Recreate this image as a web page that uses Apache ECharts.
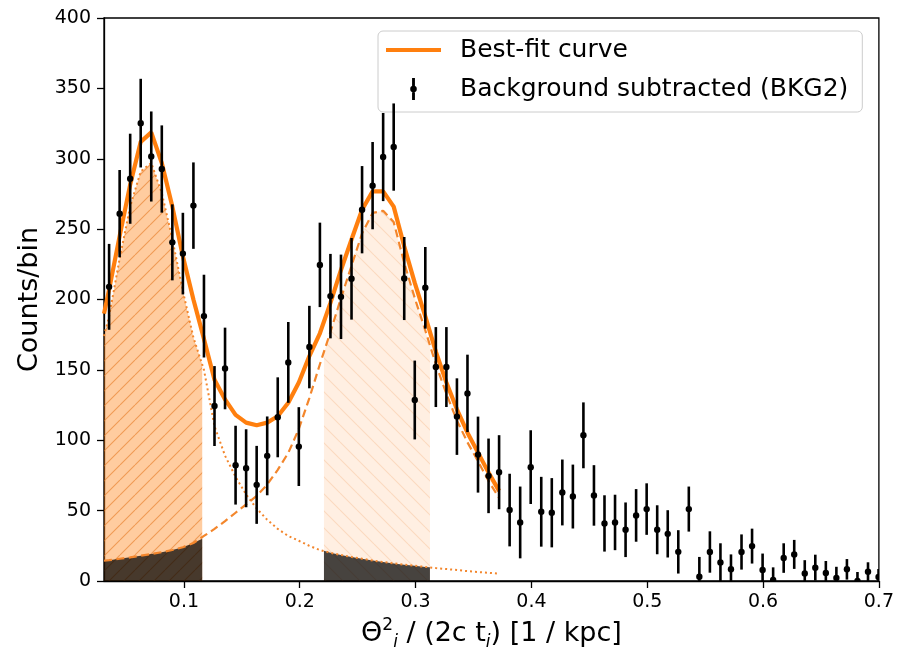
<!DOCTYPE html>
<html><head><meta charset="utf-8">
<script src="https://cdn.jsdelivr.net/npm/echarts@6/dist/echarts.min.js"></script>
<style>html,body{margin:0;padding:0;background:#fff}#c{width:897px;height:656px}</style>
</head><body><div id="c"></div>
<script>
// ---- data ----
const binX = [0.0354,0.0445,0.0536,0.0627,0.0718,0.0809,0.0900,0.0991,0.1082,0.1173,
0.1264,0.1355,0.1446,0.1537,0.1628,0.1719,0.1810,0.1901,0.1992,0.2083,
0.2174,0.2265,0.2356,0.2447,0.2538,0.2629,0.2720,0.2811,0.2902,0.2993,
0.3084,0.3175,0.3266,0.3357,0.3448,0.3539,0.3630,0.3721,0.3812,0.3903,
0.3994,0.4085,0.4176,0.4267,0.4358,0.4449,0.4540,0.4631,0.4722,0.4813,
0.4904,0.4995,0.5086,0.5177,0.5268,0.5359,0.5450,0.5541,0.5632,0.5723,
0.5814,0.5905,0.5996,0.6087,0.6178,0.6269,0.6360,0.6451,0.6542,0.6633,
0.6724,0.6815,0.6906,0.6997];
const counts = [209,261,285.8,325.3,301.6,292.7,240.6,232.6,266.7,188.2,
124.3,151,82.3,80.1,68.3,88.9,116.3,155.3,95.5,166.2,
224.6,202.4,201.9,214.7,263.8,280.9,301.2,308.3,214.9,128.6,
208.3,152,152,116.8,133.3,89.8,74.7,77.3,50.4,41.6,
80.9,49.2,48.5,62.9,60,103.5,60.8,40.9,41.6,36.4,
46.6,51.1,36.4,33.5,20.7,51.1,3.1,20.6,13.2,8.3,
20.6,24.8,7.8,0.7,16.3,18.9,5.4,9.5,5.7,2.1,
8.3,0,6.6,2.8];
const errors = [30.5,31,32,31.5,32,31,27,29,30.7,29.4,
28.4,29,28,27.7,27.7,28,28.4,28.7,28,29.3,
30,30,30,29,31,31,31.3,31,29.5,28,
29,28.4,28.4,27.2,27.5,27,26.5,26.3,25.8,25.5,
26.2,24.8,24.6,23.4,22.7,23.4,21.5,20,19.7,19.4,
18.7,18.3,17.4,16.8,15.4,16,14,14.7,13.6,10.6,
12.5,12.4,11.7,9,10.5,10.3,9.4,9.2,8.5,8,
7.3,6.4,6.7,5.7];

const curveStartX = 0.031;
const bestFit = [190,207,245,281.6,312,318.7,297,266,230.7,200,172,143,129,118,112.5,110.6,112.5,117,126.7,141,159.8,176,197.6,221,242.6,263.8,276.8,276.8,266,237.8,211.8,188,163,141,122,105.4,91.2,77,64];
const comp1 = [174,188,229,266,291,297,275.6,243,206,173,150,110,89,74,61.5,51.5,43.5,37,32,28.6,25,22,20,18.5,17,15.8,14.6,13.5,12.5,11.6,10.8,10,9.2,8.5,7.8,7,6.4,5.8,5.2];
const comp2 = [14.4,14.8,15.8,16.8,18,19.2,20.5,22,24,27,32,37,42.5,48.5,54.5,60.5,68.5,79,91,108,130,154,177,201,224,247,261.5,263,255,226,201,178,154,133,114,98.5,85,71,59];

const xTicks = [0.1,0.2,0.3,0.4,0.5,0.6,0.7];
const region1Bounds = [0.031, 0.1158];
const region1Comp1Edge = [null, 154];
const region1Comp2Edge = [null, 30];
const region2Bounds = [0.2209, 0.3124];
const region2Comp2Edge = [162, 167.5];
const region2Comp1Edge = [21.5, 9.7];

// ---- helpers ----
const curveX = [curveStartX].concat(binX.slice(0, bestFit.length - 1));
const pts = ys => ys.map((v, i) => [curveX[i], v]);
function regionData(ys, bounds, edge) {
  const out = [];
  if (edge[0] != null) out.push([bounds[0], edge[0]]);
  ys.forEach((v, i) => {
    const x = curveX[i];
    if (x >= bounds[0] - 1e-9 && x < bounds[1]) out.push([x, v]);
  });
  out.push([bounds[1], edge[1]]);
  return out;
}
function hatch(bg, line, dir, size) {
  const c = document.createElement('canvas');
  c.width = size; c.height = size;
  const g = c.getContext('2d');
  g.fillStyle = bg; g.fillRect(0, 0, size, size);
  g.strokeStyle = line; g.lineWidth = 1.1;
  g.beginPath();
  for (let k = -1; k <= 1; k++) {
    if (dir === '/') { g.moveTo(k * size, size); g.lineTo(k * size + size, 0); }
    else { g.moveTo(k * size, 0); g.lineTo(k * size + size, size); }
  }
  g.stroke();
  return c;
}
const ORANGE = '#ff7f0e';
const FONT = 'DejaVu Sans';
const ICON_LINE = 'path://M0,0 L55,0 L55,4 L0,4 Z';
const ICON_ERR = 'path://M-1.3,-10 L1.3,-10 L1.3,10 L-1.3,10 Z M0,-3 A3,3 0 1,1 0,3 A3,3 0 1,1 0,-3 Z';

const chart = echarts.init(document.getElementById('c'), null, {renderer: 'canvas'});
const fillBase = {type: 'line', symbol: 'none', showSymbol: false, silent: true, lineStyle: {width: 0}, z: 1};

chart.setOption({
  animation: false,
  backgroundColor: '#fff',
  grid: {left: 104, right: 18, top: 18, bottom: 74, show: true, borderColor: '#000', borderWidth: 1.3, backgroundColor: 'transparent'},
  legend: {
    data: [
      {name: 'Best-fit curve', icon: ICON_LINE, itemStyle: {color: ORANGE, borderWidth: 0}},
      {name: 'Background subtracted (BKG2)', icon: ICON_ERR, itemStyle: {color: '#000', borderWidth: 0}}
    ],
    left: 378, top: 31, orient: 'vertical',
    padding: [4, 14, 8, 8], itemGap: 9, itemWidth: 55, itemHeight: 22,
    backgroundColor: 'rgba(255,255,255,0.8)', borderColor: '#cccccc', borderWidth: 1, borderRadius: 5,
    selectedMode: false,
    textStyle: {fontFamily: FONT, fontSize: 25, color: '#000', lineHeight: 30, padding: [0, 0, 0, 14]}
  },
  xAxis: {
    type: 'value', min: 0.031, max: 0.7,
    name: 'Θ{sup|2}{sub|i} / (2c t{sub|i}) [1 / kpc]',
    nameLocation: 'middle', nameGap: 36,
    nameTextStyle: {fontFamily: FONT, fontSize: 27, color: '#000',
      rich: {
        sup: {fontFamily: FONT, fontSize: 17, verticalAlign: 'top', lineHeight: 34, color: '#000'},
        sub: {fontFamily: FONT, fontSize: 17, fontStyle: 'italic', verticalAlign: 'bottom', lineHeight: 34, color: '#000'}
      }},
    axisLine: {show: true, lineStyle: {color: '#000', width: 1.3}},
    axisTick: {show: true, length: 7, lineStyle: {color: '#000', width: 1.3}, customValues: xTicks},
    axisLabel: {customValues: xTicks, margin: 12, fontFamily: FONT, fontSize: 19, color: '#000',
      formatter: v => v.toFixed(1)},
    splitLine: {show: false}
  },
  yAxis: {
    type: 'value', min: 0, max: 400, interval: 50,
    name: 'Counts/bin', nameLocation: 'middle', nameGap: 56,
    nameTextStyle: {fontFamily: FONT, fontSize: 27, color: '#000'},
    axisLine: {show: true, lineStyle: {color: '#000', width: 1.3}},
    axisTick: {show: true, length: 7, lineStyle: {color: '#000', width: 1.3}},
    axisLabel: {margin: 13, fontFamily: FONT, fontSize: 19, color: '#000'},
    splitLine: {show: false}
  },
  series: [
    Object.assign({}, fillBase, {name: 'peak1-fill', data: regionData(comp1, region1Bounds, region1Comp1Edge),
      areaStyle: {opacity: 1, color: {image: hatch('rgba(255,127,14,0.40)', 'rgba(225,115,25,0.55)', '/', 15), repeat: 'repeat'}}}),
    Object.assign({}, fillBase, {name: 'peak1-bkg', data: regionData(comp2, region1Bounds, region1Comp2Edge),
      areaStyle: {opacity: 1, color: 'rgba(0,0,0,0.72)'}}),
    Object.assign({}, fillBase, {name: 'peak2-fill', data: regionData(comp2, region2Bounds, region2Comp2Edge),
      areaStyle: {opacity: 1, color: {image: hatch('rgba(255,127,14,0.12)', 'rgba(235,140,70,0.22)', '\\', 17), repeat: 'repeat'}}}),
    Object.assign({}, fillBase, {name: 'peak2-bkg', data: regionData(comp1, region2Bounds, region2Comp1Edge),
      areaStyle: {opacity: 1, color: 'rgba(0,0,0,0.72)'}}),
    {type: 'line', name: 'comp1', data: pts(comp1), symbol: 'none', showSymbol: false, silent: true, z: 2,
      lineStyle: {color: '#f3862c', width: 2, type: [2, 3]}},
    {type: 'line', name: 'comp2', data: pts(comp2), symbol: 'none', showSymbol: false, silent: true, z: 2,
      lineStyle: {color: '#f3862c', width: 2.2, type: [8, 4.5]}},
    {type: 'line', name: 'Best-fit curve', data: pts(bestFit), symbol: 'none', showSymbol: false, z: 3,
      itemStyle: {color: ORANGE},
      lineStyle: {color: ORANGE, width: 4.2}},
    {type: 'custom', name: 'Background subtracted (BKG2)', z: 4, clip: true,
      itemStyle: {color: '#000'},
      encode: {x: 0, y: 1},
      data: binX.map((x, i) => [x, counts[i], errors[i]]),
      renderItem: function (params, api) {
        const x = api.value(0), y = api.value(1), e = api.value(2);
        const p = api.coord([x, y]);
        const t = api.coord([x, y + e]);
        const b = api.coord([x, y - e]);
        return {type: 'group', children: [
          {type: 'line', shape: {x1: p[0], y1: t[1], x2: p[0], y2: b[1]}, style: {stroke: '#000', lineWidth: 2.6}},
          {type: 'circle', shape: {cx: p[0], cy: p[1], r: 3.2}, style: {fill: '#000'}}
        ]};
      }}
  ]
});
</script></body></html>
